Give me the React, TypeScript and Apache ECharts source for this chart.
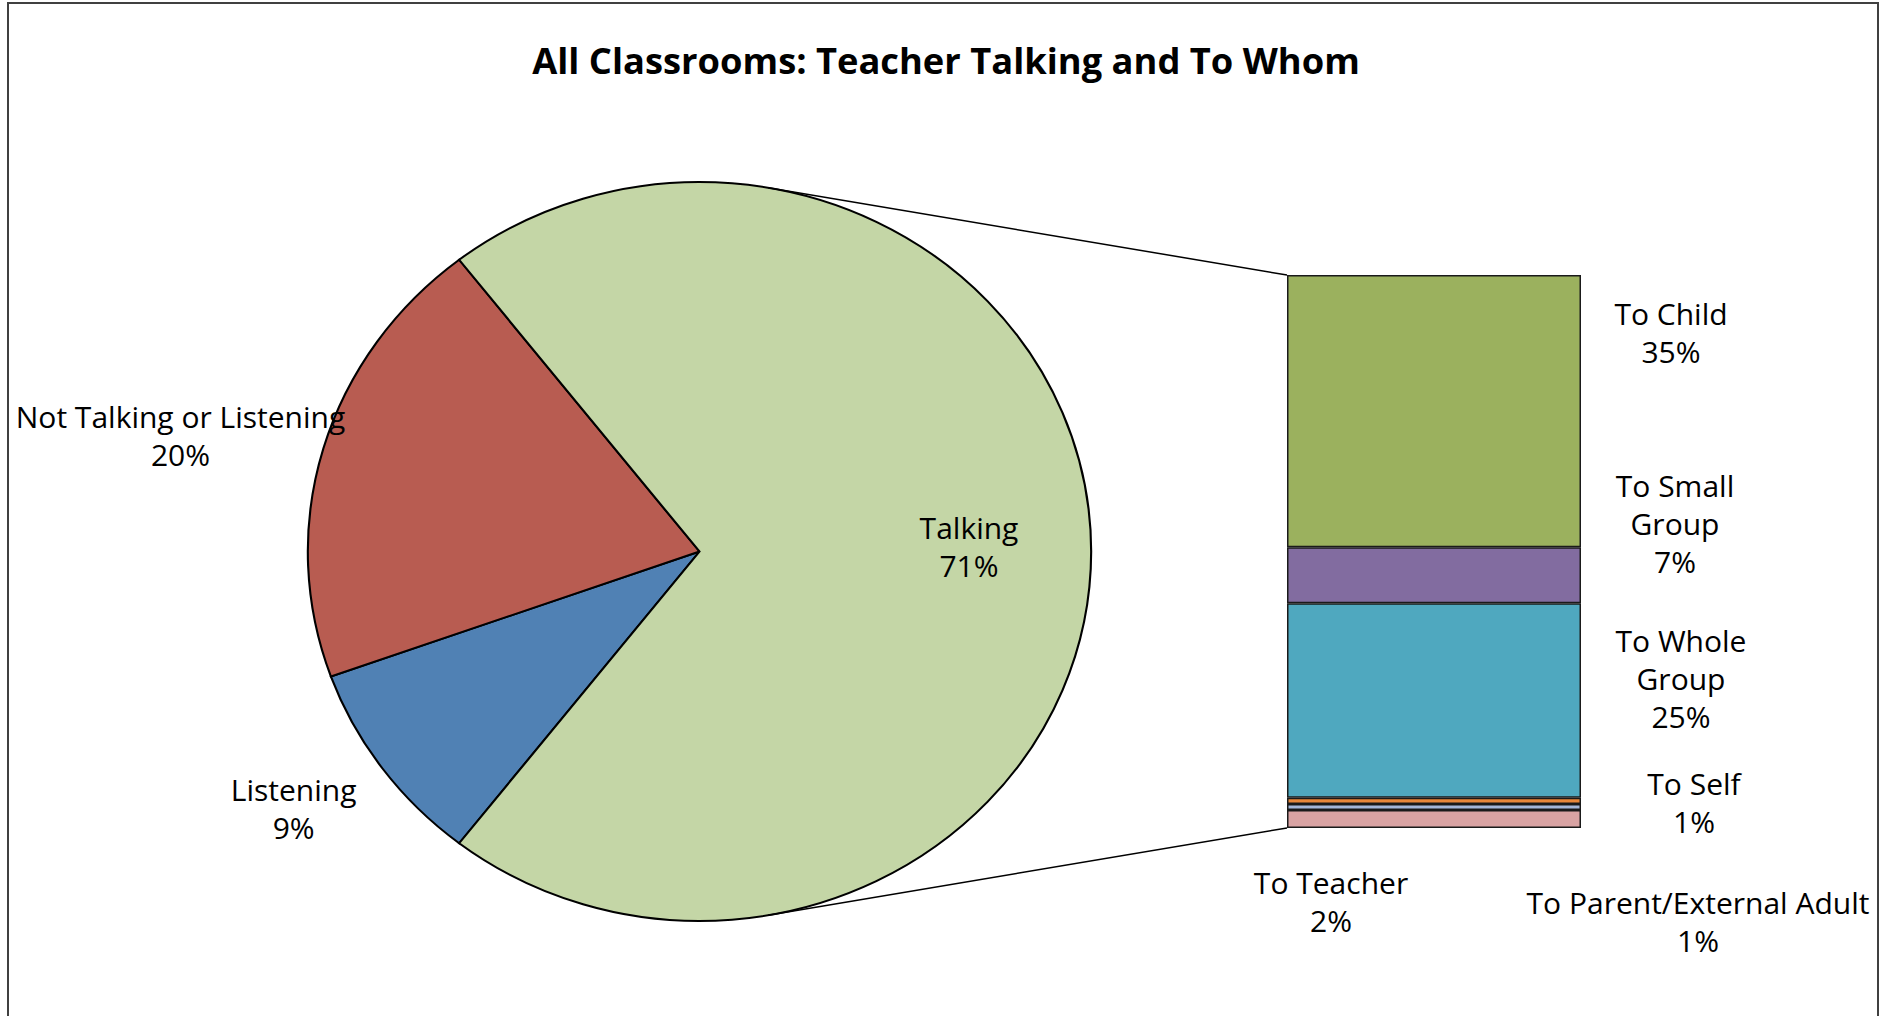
import React, { useEffect, useRef } from "react";
import * as echarts from "echarts";

// ---- data ----
const titleText = "All Classrooms: Teacher Talking and To Whom";
const pieCategories = ["Listening", "Not Talking or Listening"];
const pieValues = [9, 20];
const talkingName = "Talking";
// breakdown of "Talking" (top to bottom in the bar)
const barCategories = ["To Child", "To Small Group", "To Whole Group", "To Self", "To Parent/External Adult", "To Teacher"];
const barLabelNames = ["To Child", "To Small\nGroup", "To Whole\nGroup", "To Self", "To Parent/External Adult", "To Teacher"];
const barValues = [35, 7.2, 25, 0.8, 0.8, 2.3];

// ---- styles ----
const pieColors = ["#5081B4", "#B85C51", "#C4D6A6"];
const barColors = ["#9BB15E", "#826CA0", "#4FA8BF", "#E8873A", "#A4B6D8", "#D9A3A3"];
const FONT = "'Open Sans', 'Noto Sans', sans-serif";
const LABEL_SIZE = 30;
const LINE_H = 38;

// layout
const CX = 699.5, CY = 551.5, RX = 391.5, RY = 369.5;
const BAR_LEFT = 1287, BAR_TOP = 275, BAR_W = 294, BAR_H = 553;
// pie label offsets from the slice's edge mid point
const pieLabelOffsets = [[-89, 40], [-143, -13], [-122, -5.5]];
// bar label offsets from the right-middle of each segment
const barLabelOffsets = [[90, -79], [94, -51.5], [100, -22], [113, 1.5], [117, 114], [-250, 82]];

export default function App() {
  const ref = useRef<HTMLDivElement>(null);
  useEffect(() => {
    document.body.style.margin = "0";
    const chart = echarts.init(ref.current!, null, { renderer: "svg" });

    const talkingValue = barValues.reduce((a, b) => a + b, 0);
    const sliceValues = [...pieValues, talkingValue];
    const sliceNames = [...pieCategories, talkingName];
    const total = sliceValues.reduce((a, b) => a + b, 0);
    const pct = (v: number) => Math.round((v / total) * 100) + "%";

    // angles: Talking centred on the right (0 rad), others follow clockwise
    const half = Math.PI * (talkingValue / total);
    const angles: [number, number][] = [];
    let a = half;
    pieValues.forEach((v) => {
      const span = (2 * Math.PI * v) / total;
      angles.push([a, a + span]);
      a += span;
    });
    angles.push([-half, half]);

    // connector lines tangent to the ellipse
    const tangent = (px: number, py: number, top: boolean) => {
      const ux = (px - CX) / RX, uy = (py - CY) / RY;
      const d = Math.sqrt(ux * ux + uy * uy);
      const base = Math.atan2(uy, ux);
      const delta = Math.acos(1 / d);
      const t = top ? base - delta : base + delta;
      return [CX + RX * Math.cos(t), CY + RY * Math.sin(t)];
    };
    const t1 = tangent(BAR_LEFT, BAR_TOP, true);
    const t2 = tangent(BAR_LEFT, BAR_TOP + BAR_H, false);

    const stackOrder = barCategories.map((_, i) => i).reverse();

    chart.setOption({
      animation: false,
      backgroundColor: "#ffffff",
      graphic: [
        {
          type: "rect",
          shape: { x: 8, y: 3, width: 1870, height: 1040 },
          style: { fill: "none", stroke: "#404040", lineWidth: 2 },
          silent: true,
        },
        {
          type: "text",
          x: 946,
          y: 60,
          style: {
            text: titleText,
            align: "center",
            verticalAlign: "middle",
            fontFamily: FONT,
            fontWeight: "bold",
            fontSize: 36.3,
            fill: "#000",
          },
        },
        {
          type: "line",
          shape: { x1: t1[0], y1: t1[1], x2: BAR_LEFT, y2: BAR_TOP },
          style: { stroke: "#000", lineWidth: 1.5 },
          z: 10,
        },
        {
          type: "line",
          shape: { x1: t2[0], y1: t2[1], x2: BAR_LEFT, y2: BAR_TOP + BAR_H },
          style: { stroke: "#000", lineWidth: 1.5 },
          z: 10,
        },
      ],
      grid: { left: BAR_LEFT, top: BAR_TOP, width: BAR_W, height: BAR_H },
      xAxis: { type: "category", data: [""], show: false },
      yAxis: { type: "value", min: 0, max: talkingValue, show: false },
      series: [
        {
          type: "custom",
          coordinateSystem: "none",
          data: sliceValues.map((v, i) => ({ name: sliceNames[i], value: v })),
          renderItem: (params: any) => {
            const i = params.dataIndex;
            const [s, e] = angles[i];
            const m = (s + e) / 2;
            const ex = CX + RX * Math.cos(m);
            const ey = CY + RY * Math.sin(m);
            const off = pieLabelOffsets[i];
            return {
              type: "group",
              children: [
                {
                  type: "sector",
                  x: CX,
                  y: CY,
                  scaleX: RX / RY,
                  scaleY: 1,
                  shape: { cx: 0, cy: 0, r0: 0, r: RY, startAngle: s, endAngle: e, clockwise: true },
                  style: { fill: pieColors[i], stroke: "#000", lineWidth: 2, strokeNoScale: true },
                },
                {
                  type: "text",
                  z2: 100,
                  x: ex + off[0],
                  y: ey + off[1],
                  style: {
                    text: sliceNames[i] + "\n" + pct(sliceValues[i]),
                    align: "center",
                    verticalAlign: "middle",
                    fontFamily: FONT,
                    fontSize: LABEL_SIZE,
                    lineHeight: LINE_H,
                    fill: "#000",
                  },
                },
              ],
            };
          },
        },
        ...stackOrder.map((i) => ({
          type: "bar",
          name: barCategories[i],
          stack: "talk",
          barWidth: "100%",
          data: [barValues[i]],
          itemStyle: { color: barColors[i], borderColor: "#1a1a1a", borderWidth: 1.5 },
          label: {
            show: true,
            position: "right",
            distance: 0,
            align: "center",
            verticalAlign: "middle",
            offset: barLabelOffsets[i],
            formatter: () => barLabelNames[i] + "\n" + pct(barValues[i]),
            fontFamily: FONT,
            fontSize: LABEL_SIZE,
            lineHeight: LINE_H,
            color: "#000",
          },
        })),
      ],
    });
    return () => chart.dispose();
  }, []);
  return <div ref={ref} style={{ width: 1880, height: 1016 }} />;
}
